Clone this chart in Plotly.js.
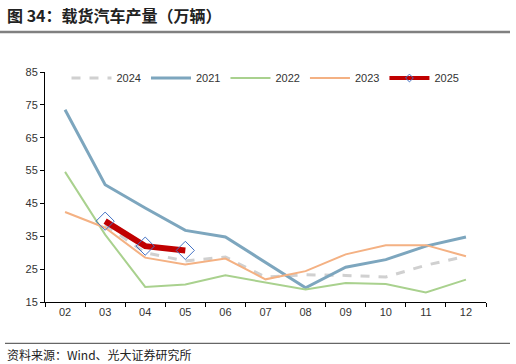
<!DOCTYPE html>
<html>
<head>
<meta charset="utf-8">
<script src="https://cdn.plot.ly/plotly-3.0.1.min.js"></script>
<style>html,body{margin:0;padding:0;background:#fff;}#chart{width:516px;height:364px;}</style>
</head>
<body>
<div id="chart"></div>
<script>
var months = ["02","03","04","05","06","07","08","09","10","11","12"];
var y2024 = [null, 38.5, 30.0, 27.5, 28.7, 22.6, 23.3, 23.1, 22.6, 26.2, 28.9];
var y2021 = [73.5, 50.7, 43.6, 36.8, 34.8, 27.0, 19.3, 25.6, 27.9, 32.0, 34.8];
var y2022 = [54.6, 35.5, 19.6, 20.3, 23.1, 21.0, 18.8, 20.8, 20.5, 17.9, 21.8];
var y2023 = [42.4, 37.6, 28.5, 26.4, 28.2, 21.9, 24.4, 29.5, 32.3, 32.3, 28.9];
var y2025 = [null, 39.6, 32.0, 30.7, null, null, null, null, null, null, null];
var yTicks = [15, 25, 35, 45, 55, 65, 75, 85];

var traces = [
  {x: months, y: y2024, name: "2024", type: "scatter", mode: "lines",
   line: {color: "#D0D0D0", width: 3, dash: "dash"}},
  {x: months, y: y2021, name: "2021", type: "scatter", mode: "lines",
   line: {color: "#7DA6BE", width: 3}},
  {x: months, y: y2022, name: "2022", type: "scatter", mode: "lines",
   line: {color: "#A9D18E", width: 2}},
  {x: months, y: y2023, name: "2023", type: "scatter", mode: "lines",
   line: {color: "#F4B183", width: 2}},
  {x: months, y: y2025, name: "2025", type: "scatter", mode: "lines+markers", showlegend: false,
   line: {color: "#C00000", width: 6},
   marker: {symbol: "diamond-open", size: 14, color: "#4472C4", line: {color: "#4472C4", width: 1}}},
  {x: [null], y: [null], name: "2025", type: "scatter", mode: "lines+markers",
   line: {color: "#C00000", width: 4},
   marker: {symbol: "diamond-open", size: 6, color: "#4472C4", line: {color: "#4472C4", width: 1}}}
];

var layout = {
  width: 516, height: 364,
  margin: {l: 45, r: 30, t: 72, b: 62},
  paper_bgcolor: "#fff", plot_bgcolor: "#fff",
  font: {family: "Liberation Sans, Arial, sans-serif", size: 11, color: "#333"},
  showlegend: true,
  legend: {orientation: "h", x: 0.5, xanchor: "center", y: (302-78)/230, yanchor: "middle",
           bgcolor: "rgba(0,0,0,0)", font: {size: 11, color: "#333"}, itemwidth: 40, tracegroupgap: 0},
  xaxis: {type: "category", showline: true, linecolor: "#000", linewidth: 1,
          ticks: "outside", ticklen: 4, tickcolor: "#000", tickson: "boundaries",
          showgrid: false, zeroline: false, range: [-0.5, 10.5],
          tickfont: {size: 11, color: "#333"}},
  yaxis: {range: [15, 85], tickvals: yTicks, showline: true, linecolor: "#000", linewidth: 1,
          ticks: "outside", ticklen: 4, tickcolor: "#000", showgrid: false, zeroline: false,
          tickfont: {size: 11, color: "#333"}},
  shapes: [
    {type: "line", xref: "paper", yref: "paper", x0: -45/441, x1: 465/441,
     y0: (364-62-32)/230, y1: (364-62-32)/230, line: {color: "#808080", width: 2.5}},
    {type: "line", xref: "paper", yref: "paper", x0: -40/441, x1: 465/441,
     y0: (364-62-343.3)/230, y1: (364-62-343.3)/230, line: {color: "#404040", width: 1}}
  ],
  annotations: [
    {text: "<b>图 34：载货汽车产量（万辆）</b>", xref: "paper", yref: "paper",
     x: -40/441, y: (364-62-15)/230, xanchor: "left", yanchor: "middle", showarrow: false,
     font: {family: "Noto Sans CJK SC", size: 16, color: "#222"}},
    {text: "资料来源：Wind、光大证券研究所", xref: "paper", yref: "paper",
     x: -40/441, y: (364-62-354)/230, xanchor: "left", yanchor: "middle", showarrow: false,
     font: {family: "Noto Sans CJK SC", size: 12, color: "#222"}}
  ]
};

Plotly.newPlot("chart", traces, layout, {displayModeBar: false, staticPlot: true});
</script>
</body>
</html>
